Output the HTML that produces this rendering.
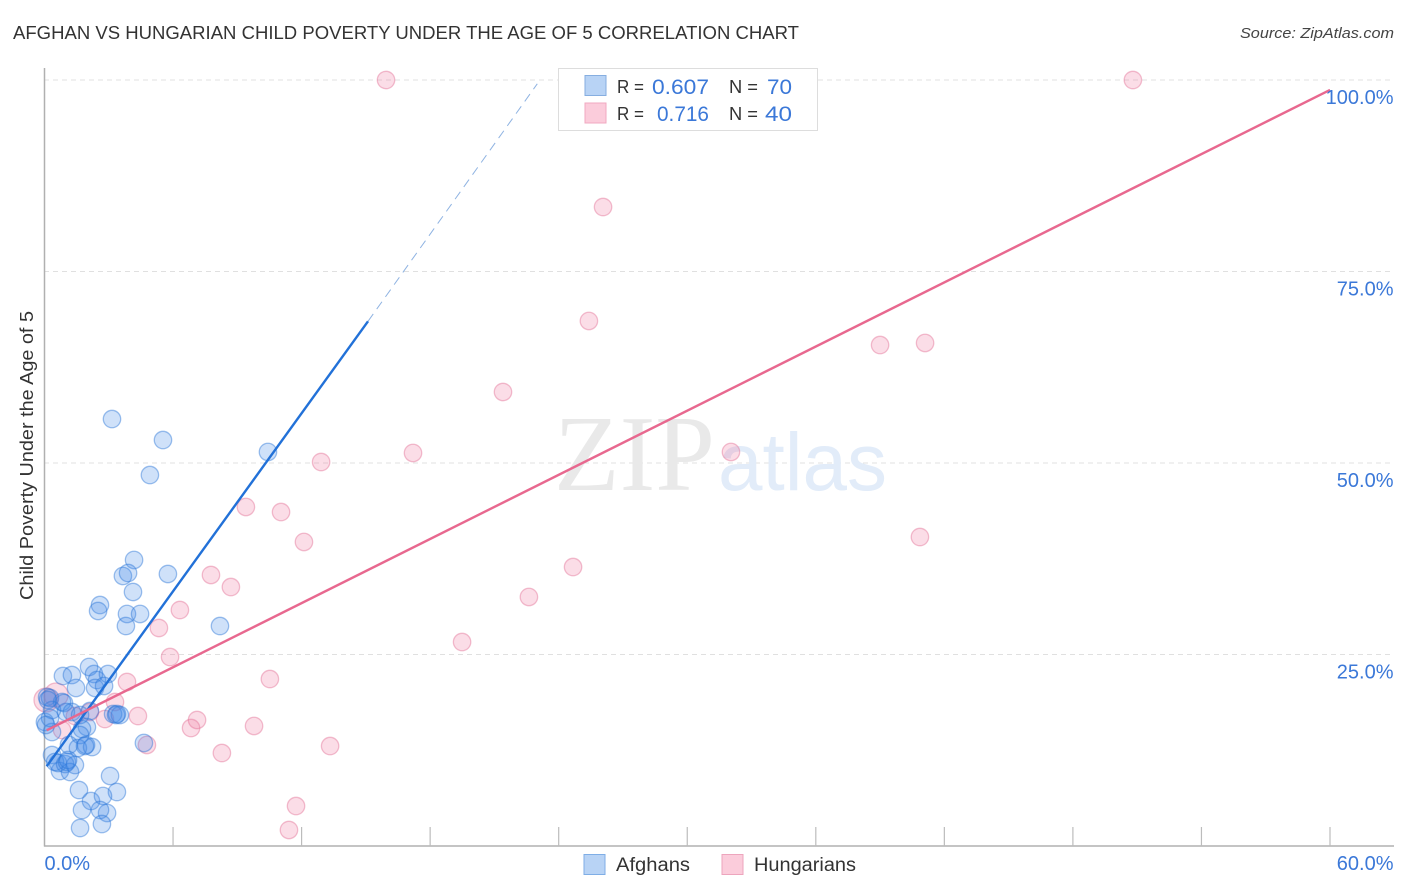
<!DOCTYPE html>
<html>
<head>
<meta charset="utf-8">
<style>
html,body{margin:0;padding:0;background:#fff;width:1406px;height:892px;overflow:hidden}
svg{display:block}
text{font-family:"Liberation Sans",sans-serif}
</style>
</head>
<body>
<svg id="chart" width="1406" height="892" viewBox="0 0 1406 892" xmlns="http://www.w3.org/2000/svg">
  <text x="13" y="39" font-size="18.5" fill="#333" textLength="786" lengthAdjust="spacingAndGlyphs">AFGHAN VS HUNGARIAN CHILD POVERTY UNDER THE AGE OF 5 CORRELATION CHART</text>
  <text x="1394" y="38" font-size="15" font-style="italic" fill="#444" text-anchor="end" textLength="154" lengthAdjust="spacingAndGlyphs">Source: ZipAtlas.com</text>
  <g id="grid"></g>
  <text x="554" y="490" font-size="108" fill="#e9e9e9" textLength="161" lengthAdjust="spacingAndGlyphs" style="font-family:'Liberation Serif',serif">ZIP</text>
  <text x="718" y="490" font-size="82" fill="#e2ecf9" textLength="169" lengthAdjust="spacingAndGlyphs">atlas</text>
  <g id="axes"></g>
  <g id="marks-hungarians"></g>
  <g id="marks-afghans"></g>
  <g id="lines"></g>
  <g id="labels"></g>
  <text transform="translate(33,455.5) rotate(-90)" font-size="18.5" fill="#333" text-anchor="middle" textLength="289" lengthAdjust="spacingAndGlyphs">Child Poverty Under the Age of 5</text>

  <g>
    <rect x="558.5" y="68.5" width="259" height="62" fill="#fff" stroke="#ddd" stroke-width="1"/>
    <rect x="585" y="75.5" width="21" height="20" fill="#b8d3f5" stroke="#86aee0" stroke-width="1"/>
    <rect x="585" y="103" width="21" height="20" fill="#fbccdb" stroke="#f0a9c0" stroke-width="1"/>
    <text x="617" y="93" font-size="18" fill="#333" textLength="27" lengthAdjust="spacingAndGlyphs">R =</text>
    <text x="652" y="94" font-size="21" fill="#3b78d8" textLength="57" lengthAdjust="spacingAndGlyphs">0.607</text>
    <text x="729" y="93" font-size="18" fill="#333" textLength="29" lengthAdjust="spacingAndGlyphs">N =</text>
    <text x="767" y="94" font-size="21" fill="#3b78d8" textLength="25" lengthAdjust="spacingAndGlyphs">70</text>
    <text x="617" y="120" font-size="18" fill="#333" textLength="27" lengthAdjust="spacingAndGlyphs">R =</text>
    <text x="657" y="121" font-size="21" fill="#3b78d8" textLength="52" lengthAdjust="spacingAndGlyphs">0.716</text>
    <text x="729" y="120" font-size="18" fill="#333" textLength="29" lengthAdjust="spacingAndGlyphs">N =</text>
    <text x="765" y="121" font-size="21" fill="#3b78d8" textLength="27" lengthAdjust="spacingAndGlyphs">40</text>
  </g>

  <g>
    <rect x="584" y="854.5" width="21" height="20" fill="#b8d3f5" stroke="#7faee6" stroke-width="1"/>
    <text x="616" y="871" font-size="19" fill="#333" textLength="74" lengthAdjust="spacingAndGlyphs">Afghans</text>
    <rect x="722" y="854.5" width="21" height="20" fill="#fbccdb" stroke="#eda5bd" stroke-width="1"/>
    <text x="754" y="871" font-size="19" fill="#333" textLength="102" lengthAdjust="spacingAndGlyphs">Hungarians</text>
  </g>
</svg>
<script>
const afghanX = [3.15,5.53,4.92,10.43,4.18,3.66,3.90,5.76,4.13,2.59,2.50,3.85,4.46,3.80,8.19,2.08,0.86,1.28,2.31,2.45,2.96,2.36,1.47,2.78,0.12,0.26,0.82,0.91,0.02,0.35,1.28,2.12,3.20,3.34,3.52,3.38,1.98,1.75,1.66,0.35,1.14,1.56,1.94,2.22,1.89,4.64,0.35,0.72,0.49,0.63,0.96,1.05,1.19,1.42,1.10,3.06,1.61,3.38,2.17,2.73,1.75,2.92,2.59,1.66,2.68,0.26,0.07,0.16,1.00,1.66];
const afghanY = [55.74,53.0,48.43,51.44,37.34,35.25,35.64,35.51,33.16,31.46,30.68,30.29,30.29,28.72,28.72,23.37,22.19,22.32,22.45,21.67,22.45,20.63,20.63,20.89,19.45,19.32,18.8,18.67,16.19,17.75,17.49,17.62,17.23,17.1,17.1,17.23,15.54,15.27,14.49,14.88,13.19,12.79,13.19,12.92,13.05,13.45,11.88,9.79,10.97,10.84,10.7,10.97,9.66,10.57,11.23,9.14,7.31,7.05,5.87,6.53,4.7,4.31,4.7,2.35,2.87,16.71,15.8,19.06,17.49,17.1];
const hungarianX = [15.94,50.8,26.07,25.41,39.0,41.1,21.4,32.04,17.2,12.91,9.4,11.04,12.11,40.86,24.67,7.77,8.7,22.61,6.32,5.34,19.49,5.86,10.52,3.85,3.29,4.36,7.12,6.84,9.78,13.33,8.28,4.78,11.74,11.41,2.82,2.12,1.42,0.82,0.07,0.54];
const hungarianY = [100,100,83.42,68.54,65.4,65.67,59.27,51.44,51.31,50.13,44.26,43.6,39.69,40.34,36.42,35.38,33.81,32.51,30.81,28.46,26.63,24.67,21.8,21.41,18.8,16.97,16.45,15.4,15.67,13.05,12.14,13.19,5.22,2.09,16.58,17.49,16.97,15.14,19.06,19.71];
const afghanLineX = [0.1,15.1,23.0];
const afghanLineY = [10.4,68.5,99.5];
const hungarianLineX = [0.1,60];
const hungarianLineY = [15.1,98.7];
const xTickValues = [0,6,12,18,24,30,36,42,48,54,60];
const yGridValues = [25,50,75,100];
const yTickLabels = ["25.0%","50.0%","75.0%","100.0%"];
const xEndLabels = ["0.0%","60.0%"];
const xEndValues = [0,60];

const NS = 'http://www.w3.org/2000/svg';
function xs(v){return 44.5 + v * 1285.5 / 60;}
function ys(v){return 846 - v * 7.66;}
function mk(tag, parent, attrs){
  const e = document.createElementNS(NS, tag);
  for (const k in attrs) e.setAttribute(k, attrs[k]);
  parent.appendChild(e);
  return e;
}
const grid = document.getElementById('grid');
const axes = document.getElementById('axes');
const labels = document.getElementById('labels');
const lines = document.getElementById('lines');

yGridValues.forEach(function(v, i){
  const g = mk('line', grid, {x1:44, x2:1394, y1:ys(v), y2:ys(v), stroke:'#e0e0e0', 'stroke-width':1, 'stroke-dasharray':'5 4'});
  
  
  const t = mk('text', labels, {x:1393.5, y:ys(v)+24, 'font-size':20, fill:'#3b78d8', 'text-anchor':'end'});
  
  
  t.textContent = yTickLabels[i];
});

const yAxis = mk('line', axes, {x1:44.5, x2:44.5, y1:68, y2:846.5, stroke:'#b0b0b0', 'stroke-width':1.5});


const xAxis = mk('line', axes, {x1:44, x2:1394, y1:846, y2:846, stroke:'#b0b0b0', 'stroke-width':1.5});


xTickValues.slice(1).forEach(function(v){
  const t = mk('line', axes, {x1:xs(v), x2:xs(v), y1:827, y2:846, stroke:'#bcbcbc', 'stroke-width':1.2});
  
  
});
xEndValues.forEach(function(v, i){
  const t = mk('text', labels, {x: i === 0 ? xs(v) : xs(v)+63.5, y:870, 'font-size':20, fill:'#3b78d8', 'text-anchor': i === 0 ? 'start' : 'end'});
  
  
  t.textContent = xEndLabels[i];
});

const hGroup = document.getElementById('marks-hungarians');
hungarianX.forEach(function(v, i){
  const c = mk('circle', hGroup, {cx:xs(v), cy:ys(hungarianY[i]), r: i >= 38 ? 12 : 8.7, fill:'#ee6f99', 'fill-opacity':0.24, stroke:'#e67d9f', 'stroke-opacity':0.5, 'stroke-width':1.3});
  
  
});
const aGroup = document.getElementById('marks-afghans');
afghanX.forEach(function(v, i){
  const c = mk('circle', aGroup, {cx:xs(v), cy:ys(afghanY[i]), r:8.7, fill:'#3f86e6', 'fill-opacity':0.25, stroke:'#2a76d8', 'stroke-opacity':0.45, 'stroke-width':1.3});
  
  
});

const blueSolid = mk('line', lines, {x1:xs(afghanLineX[0]), y1:ys(afghanLineY[0]), x2:xs(afghanLineX[1]), y2:ys(afghanLineY[1]), stroke:'#2271d8', 'stroke-width':2.4});


const blueDash = mk('line', lines, {x1:xs(afghanLineX[1]), y1:ys(afghanLineY[1]), x2:xs(afghanLineX[2]), y2:ys(afghanLineY[2]), stroke:'#8fb3e2', 'stroke-width':1, 'stroke-dasharray':'9 6'});


const pinkLine = mk('line', lines, {x1:xs(hungarianLineX[0]), y1:ys(hungarianLineY[0]), x2:xs(hungarianLineX[1]), y2:ys(hungarianLineY[1]), stroke:'#e8688f', 'stroke-width':2.4});


</script>
</body>
</html>
